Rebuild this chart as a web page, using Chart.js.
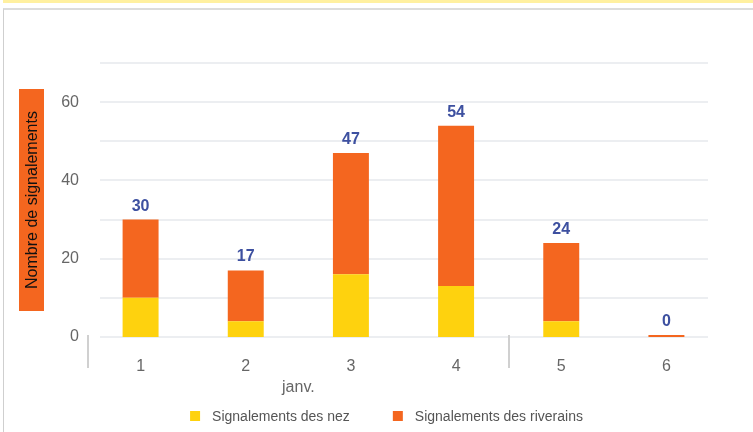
<!DOCTYPE html>
<html lang="fr">
<head>
<meta charset="utf-8">
<title>Signalements</title>
<script src="https://cdn.jsdelivr.net/npm/chart.js@4.4.1/dist/chart.umd.min.js"></script>
<style>
    body { margin: 0; background: #fff; }
    #bandeau { position: absolute; left: 3px; top: 0; width: 750px; height: 3px; background: #fff0a0; }
    #cadre { position: absolute; left: 3px; top: 8px; width: 750px; height: 424px;
             border-top: 2px solid #dcdcdc; border-left: 1px solid #cfcfcf; box-sizing: border-box; }
    #zone { position: absolute; left: 0; top: 0; width: 753px; height: 432px; }
</style>
</head>
<body>
<div id="bandeau"></div>
<div id="cadre"></div>
<div id="zone"><canvas id="signalChart"></canvas></div>
<script>
const jours = ['1', '2', '3', '4', '5', '6'];
const groupeMois = 'janv.';
const signalementsNez = [10, 4, 16, 13, 4, 0];
const signalementsRiverains = [20, 13, 31, 41, 20, 0];
const graduations = [0, 10, 20, 30, 40, 50, 60, 70];

const jaune = '#fed20e';
const orange = '#f4661f';

Chart.defaults.font.family = '"Liberation Sans", Arial, sans-serif';

// Lignes de grille, séparateurs et libellé du groupe "janv."
const decorPlugin = {
    id: 'decor',
    beforeDatasetsDraw(chart) {
        const { ctx, chartArea, scales } = chart;
        ctx.save();
        ctx.strokeStyle = '#eceef1';
        ctx.lineWidth = 2;
        graduations.forEach(v => {
            const y = Math.round(scales.y.getPixelForValue(v));
            ctx.beginPath();
            ctx.moveTo(chartArea.left + 12, y);
            ctx.lineTo(chartArea.right - 11, y);
            ctx.stroke();
        });
        ctx.restore();
    },
    afterDraw(chart) {
        const { ctx, chartArea, scales } = chart;
        const x = scales.x;
        ctx.save();
        // séparateurs de groupe
        ctx.strokeStyle = '#d0d0d0';
        ctx.lineWidth = 2;
        const sep = [chartArea.left, (x.getPixelForValue(3) + x.getPixelForValue(4)) / 2];
        sep.forEach(px => {
            ctx.beginPath();
            ctx.moveTo(Math.round(px), chartArea.bottom - 2);
            ctx.lineTo(Math.round(px), chartArea.bottom + 31);
            ctx.stroke();
        });
        // libellé du mois
        ctx.fillStyle = '#666';
        ctx.font = '16px "Liberation Sans", Arial, sans-serif';
        ctx.textAlign = 'center';
        ctx.textBaseline = 'middle';
        ctx.fillText(groupeMois, (x.getPixelForValue(0) + x.getPixelForValue(3)) / 2, chartArea.bottom + 51);

        // titre de l'axe Y sur fond orange
        const cy = (chartArea.top + chartArea.bottom) / 2;
        ctx.fillStyle = orange;
        ctx.fillRect(19, cy - 111, 25, 222);
        ctx.translate(32, cy);
        ctx.rotate(-Math.PI / 2);
        ctx.fillStyle = '#111';
        ctx.font = '16px "Liberation Sans", Arial, sans-serif';
        ctx.fillText('Nombre de signalements', 0, 1);
        ctx.restore();

        // totaux au-dessus des barres
        const meta = chart.getDatasetMeta(1);
        ctx.save();
        ctx.fillStyle = '#3d50a0';
        ctx.font = 'bold 16px "Liberation Sans", Arial, sans-serif';
        ctx.textAlign = 'center';
        ctx.textBaseline = 'alphabetic';
        jours.forEach((j, i) => {
            const total = signalementsNez[i] + signalementsRiverains[i];
            const bar = meta.data[i];
            ctx.fillText(String(total), bar.x, bar.y - 9);
        });
        ctx.restore();

        // légende
        ctx.save();
        ctx.font = '14px "Liberation Sans", Arial, sans-serif';
        ctx.textBaseline = 'middle';
        ctx.textAlign = 'left';
        const items = chart.data.datasets.map(d => ({ label: d.label, color: d.backgroundColor }));
        const widths = items.map(it => 10 + 12 + ctx.measureText(it.label).width);
        const total = widths.reduce((a, b) => a + b, 0) + 43 * (items.length - 1);
        let lx = chart.width / 2 + 10 - total / 2;
        const ly = 416;
        items.forEach((it, i) => {
            ctx.fillStyle = it.color;
            ctx.fillRect(lx, ly - 5, 10, 10);
            ctx.fillStyle = '#555';
            ctx.fillText(it.label, lx + 22, ly + 1);
            lx += widths[i] + 43;
        });
        ctx.restore();
    }
};

const ctx = document.getElementById('signalChart').getContext('2d');
const signalChart = new Chart(ctx, {
    type: 'bar',
    data: {
        labels: jours,
        datasets: [
            {
                label: 'Signalements des nez',
                data: signalementsNez,
                backgroundColor: jaune,
                categoryPercentage: 1,
                barPercentage: 0.342
            },
            {
                label: 'Signalements des riverains',
                data: signalementsRiverains,
                backgroundColor: orange,
                categoryPercentage: 1,
                barPercentage: 0.342,
                minBarLength: 2
            }
        ]
    },
    options: {
        responsive: true,
        maintainAspectRatio: false,
        animation: false,
        layout: { padding: { top: 63, right: 34, bottom: 0, left: 0 } },
        plugins: {
            legend: { display: false },
            tooltip: { enabled: false }
        },
        scales: {
            x: {
                stacked: true,
                grid: { display: false, drawTicks: false },
                border: { display: false },
                ticks: { color: '#666', font: { size: 16 }, padding: 20, maxRotation: 0 },
                afterFit: s => { s.height = 95; }
            },
            y: {
                stacked: true,
                min: 0,
                max: 70,
                grid: { display: false, drawTicks: false },
                border: { display: false },
                ticks: {
                    stepSize: 10,
                    color: '#666',
                    font: { size: 16 },
                    padding: 9,
                    callback: v => (v % 20 === 0 ? v : '')
                },
                afterFit: s => { s.width = 88; }
            }
        }
    },
    plugins: [decorPlugin]
});
</script>
</body>
</html>
